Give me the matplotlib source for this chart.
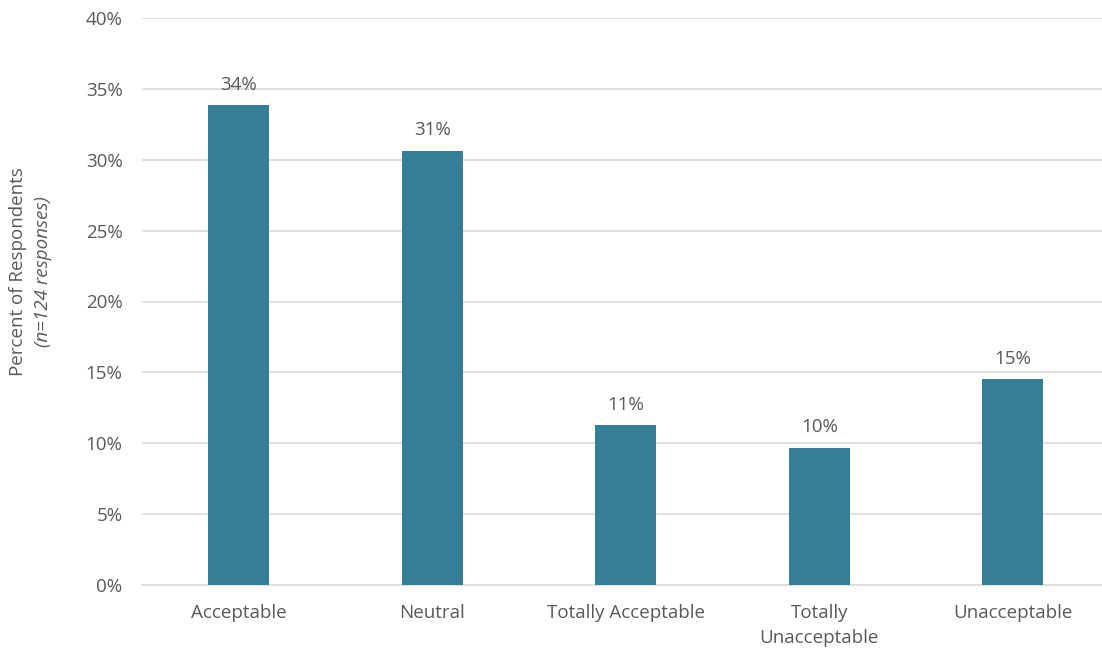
import matplotlib
matplotlib.use("Agg")
import matplotlib.pyplot as plt

plt.rcParams['font.family'] = ['Open Sans', 'DejaVu Sans']

categories = ["Acceptable", "Neutral", "Totally Acceptable", "Totally\nUnacceptable", "Unacceptable"]
counts = [42, 38, 14, 12, 18]
n_total = 124
percents = [c / n_total * 100 for c in counts]
yticks = [0, 5, 10, 15, 20, 25, 30, 35, 40]

bar_color = "#367D96"
text_color = "#595959"
grid_color = "#D9D9D9"
fs = 13.5

fig = plt.figure(figsize=(11.02, 6.52), dpi=100)
ax = fig.add_axes([142 / 1102, 1 - 585 / 652, 960 / 1102, 567 / 652])

x = list(range(len(categories)))
bars = ax.bar(x, percents, width=0.315, color=bar_color, zorder=3)
for xi, p in zip(x, percents):
    ax.text(xi, p + 0.8, f"{p:.0f}%", ha="center", va="bottom", fontsize=fs, color=text_color)

ax.set_ylim(0, 40)
ax.set_xlim(-0.5, 4.46)
ax.set_yticks(yticks)
ax.set_yticklabels([f"{t}%" for t in yticks])
ax.set_xticks(x)
ax.set_xticklabels(categories, linespacing=1.5)
ax.tick_params(axis="both", length=0, labelsize=fs, colors=text_color)
ax.tick_params(axis="y", pad=14)
ax.tick_params(axis="x", pad=14)
ax.grid(axis="y", color=grid_color, linewidth=1.2, zorder=0)
for s in ["top", "right", "left"]:
    ax.spines[s].set_visible(False)
ax.spines["bottom"].set_color(grid_color)
ax.spines["bottom"].set_linewidth(1.2)

fig.text(18 / 1102, 1 - 272 / 652, "Percent of Respondents", rotation=90, ha="center", va="center",
         fontsize=fs, color=text_color)
fig.text(43 / 1102, 1 - 272 / 652, "(n=124 responses)", rotation=90, ha="center", va="center",
         fontsize=fs, color=text_color, style="italic")

fig.savefig("out.png", dpi=100)
